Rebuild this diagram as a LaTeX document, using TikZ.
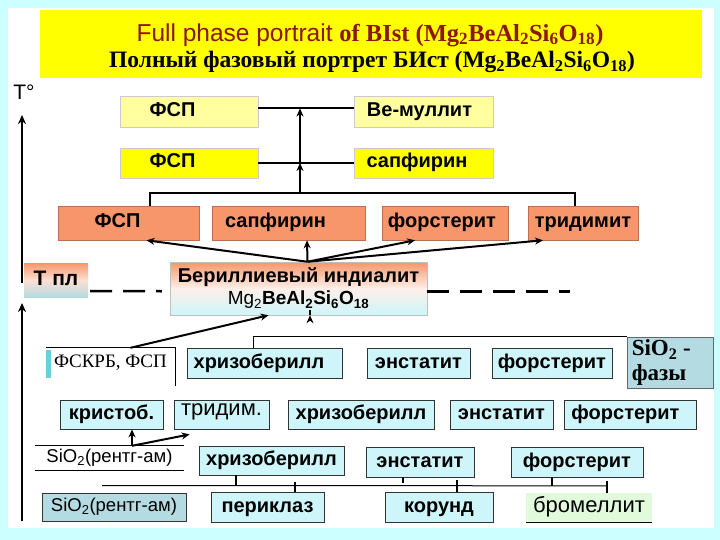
\documentclass[tikz,border=0pt]{standalone}
\usepackage{fontspec}
\setmainfont{Liberation Sans}
\newfontfamily\seriffont{Liberation Serif}
\usetikzlibrary{arrows.meta,calc}

\definecolor{bgcyan}{RGB}{204,255,255}
\definecolor{titleyellow}{RGB}{255,255,0}
\definecolor{paleyellow}{RGB}{255,255,160}
\definecolor{brightyellow}{RGB}{255,255,0}
\definecolor{salmon}{RGB}{246,150,106}
\definecolor{salmonedge}{RGB}{190,110,80}
\definecolor{lightcyan}{RGB}{206,246,250}
\definecolor{greycyan}{RGB}{180,218,226}
\definecolor{palegreen}{RGB}{226,250,220}
\definecolor{titlered}{RGB}{140,22,10}
\definecolor{stripcyan}{RGB}{110,205,220}

\newcommand{\lsh}[1]{\hspace*{-#1}}

\tikzset{
  lab/.style={font=\bfseries\fontsize{20}{23}\selectfont, inner sep=0pt, text height=14pt, text depth=4pt},
  yboxa/.style={lab, fill=paleyellow, draw=black!20, line width=0.6pt},
  yboxb/.style={lab, fill=brightyellow, draw=black!20, line width=0.6pt},
  obox/.style={lab, fill=salmon, draw=salmonedge, line width=0.6pt},
  cbox/.style={lab, fill=lightcyan, draw=black!80, line width=0.8pt},
  gradbox/.style={lab, shading=axis, top color=salmon, bottom color=lightcyan, middle color=white!85!salmon, draw=black!25, line width=0.5pt},
  conn/.style={line width=2pt, black},
  arr/.style={line width=2pt, black, -{Stealth[length=8pt,width=7pt]}},
  bus/.style={line width=1pt, black},
  tick/.style={line width=2.5pt, black},
  axisarr/.style={line width=2.5pt, black, -{Stealth[length=9pt,width=8pt]}},
  dashline/.style={line width=2.5pt, black, dash pattern=on 22pt off 11pt}
}

\begin{document}
\begin{tikzpicture}[x=1pt,y=-1pt]
\useasboundingbox (0,0) rectangle (720,540);
\fill[bgcyan] (0,0) rectangle (720,540);
\fill[white] (8,8) rectangle (714,528);

% title
\node[fill=titleyellow, minimum width=662pt, minimum height=68pt, inner sep=0pt] (title) at (371,44) {};
\node[inner sep=0pt, text=titlered] (t1) at (370,35) {\fontsize{24.5}{27}\selectfont Full phase portrait {\seriffont\bfseries of BIst (Mg\textsubscript{2}BeAl\textsubscript{2}Si\textsubscript{6}O\textsubscript{18})}};
\node[inner sep=0pt] (t2) at (372,62) {\seriffont\bfseries\fontsize{23.5}{26}\selectfont Полный фазовый портрет БИст (Mg\textsubscript{2}BeAl\textsubscript{2}Si\textsubscript{6}O\textsubscript{18})};

% axis
\node[inner sep=0pt, font=\fontsize{21}{24}\selectfont] (tlab) at (24,92) {T\textdegree};
\coordinate (axAbot) at (22,283);
\coordinate (axAtop) at (22,115);
\coordinate (axBbot) at (22,521);
\coordinate (axBtop) at (22,303);
\draw[axisarr] (axAbot) -- (axAtop);
\draw[axisarr] (axBbot) -- (axBtop);

% top rows
\node[yboxa, minimum width=138pt, minimum height=31pt] (f1) at (189,111.5) {\lsh{33pt}ФСП};
\node[yboxa, minimum width=139pt, minimum height=31pt] (bm) at (423.5,111.5) {\lsh{8pt}Ве-муллит};
\node[yboxb, minimum width=138pt, minimum height=30pt] (f2) at (189,163) {\lsh{33pt}ФСП};
\node[yboxb, minimum width=139pt, minimum height=30pt] (s2) at (423.5,163) {\lsh{13pt}сапфирин};
\draw[conn] ($(f1.east)+(0,-3)$) -- ($(bm.west)+(0,-3)$);
\draw[conn] (f2.east) -- (s2.west);
\coordinate (jn) at (300,193);
\draw[arr] (jn) -- (jn |- f2.east);
\draw[arr] (jn |- f2.east) -- ($(jn |- f1.east)+(0,-3)$);

% orange row
\node[obox, minimum width=141pt, minimum height=34pt] (o1) at (128.5,223) {\lsh{22pt}ФСП};
\node[obox, minimum width=153pt, minimum height=34pt] (o2) at (288.5,223) {\lsh{26pt}сапфирин};
\node[obox, minimum width=126pt, minimum height=34pt] (o3) at (445,223) {\lsh{6pt}форстерит};
\node[obox, minimum width=110pt, minimum height=34pt] (o4) at (583,223) {тридимит};
\draw[conn] ($(o1.north)+(21.5,0)$) |- (jn) -| ($(o4.north)+(-8,0)$);
\draw[conn] ($(o2.north)+(-1.5,0)$) -- ($(o2.north)+(-1.5,0)$ |- jn);
\draw[conn] ($(o3.north)+(-13,0)$) -- ($(o3.north)+(-13,0)$ |- jn);

% T pl and indialite
\node[lab, shading=axis, top color=salmon, bottom color=greycyan, middle color=white!70!salmon, minimum width=64pt, minimum height=34pt, font=\bfseries\fontsize{21}{24}\selectfont] (tpl) at (56,280) {Т пл};
\node[gradbox, text height=, text depth=, minimum width=257pt, minimum height=53pt, align=center] (ind) at (298.5,288.5)
  {\fontsize{20}{23}\selectfont Бериллиевый индиалит\\[-1pt]
   \fontsize{19}{22}\selectfont{\mdseries Mg\textsubscript{2}}BeAl\textsubscript{2}Si\textsubscript{6}O\textsubscript{18}};
\draw[dashline] ($(tpl.south east)+(2,-6)$) -- ($(ind.south west)+(-8,-24)$);
\draw[dashline] ($(ind.south east)+(0,-24)$) -- ++(143,0);

\coordinate (src) at ($(ind.north)+(9,0)$);
\draw[arr] (src) -- ($(o1.south)+(18,0)$);
\draw[arr] (src) -- ($(o2.south)+(18.5,0)$);
\draw[arr] (src) -- ($(o3.south)+(-30,0)$);
\draw[arr] (src) -- ($(o4.south)+(-40,0)$);

% cyan row 1
\node[fill=white, inner sep=0pt, minimum width=129pt, minimum height=30pt, font=\seriffont\fontsize{19}{22}\selectfont] (fs) at (110.5,363) {ФСКРБ, ФСП};
\fill[stripcyan] ($(fs.north west)+(0,2)$) rectangle ($(fs.south west)+(5,0)$);
\draw[line width=0.8pt] (fs.north west) -- (fs.north east) -- ($(fs.south east)+(0,8)$);
\node[cbox, minimum width=155pt, minimum height=30pt] (c1) at (264.5,363) {\lsh{11pt}хризоберилл};
\node[cbox, minimum width=103pt, minimum height=30pt] (e1) at (418.5,363) {энстатит};
\node[cbox, minimum width=120pt, minimum height=30pt] (fo1) at (552,363) {форстерит};
\node[fill=greycyan, draw=black!60, line width=0.8pt, minimum width=86pt, minimum height=51pt, inner sep=0pt] (sf) at (670,362.5) {};
\node[anchor=north west, inner sep=0pt, align=left, font=\seriffont\bfseries\fontsize{23}{25}\selectfont] (sft) at ($(sf.north west)+(5,3)$) {SiO\textsubscript{2} -\\фазы};

\draw[bus] ($(c1.north)+(-11.5,0)$) |- (sf.north west);
\draw[bus] ($(e1.north)+(-10.5,0)$) -- ($(e1.north)+(-10.5,0)$ |- sf.north west);
\draw[bus] ($(fo1.north)+(-5,0)$) -- ($(fo1.north)+(-5,0)$ |- sf.north west);
\draw[arr] ($(ind.south)+(11.5,0)$ |- sf.north west) -- ($(ind.south)+(11.5,0)$);
\draw[arr] ($(fs.north)+(20,0)$) -- ($(ind.south)+(-30,0)$);

% cyan row 2
\node[cbox, minimum width=103pt, minimum height=29pt] (kr) at (111.5,414.5) {кристоб.};
\node[cbox, minimum width=95pt, minimum height=29pt, font=\fontsize{22}{24}\selectfont, text height=11pt, text depth=9pt] (tr) at (221.5,414.5) {тридим.};
\node[cbox, minimum width=146pt, minimum height=29pt] (c2) at (361,414.5) {хризоберилл};
\node[cbox, minimum width=103pt, minimum height=29pt] (e2) at (501.5,414.5) {энстатит};
\node[cbox, minimum width=132pt, minimum height=29pt] (fo2) at (630,414.5) {\lsh{9pt}форстерит};

% SiO2 (rentg-am) text between lines
\node[inner sep=0pt, minimum width=149pt, minimum height=24pt, font=\fontsize{18.5}{21}\selectfont] (sx) at (109.5,458) {SiO\textsubscript{2}(рентг-ам)};
\draw[line width=0.8pt] (sx.north west) -- (sx.north east);
\draw[line width=0.8pt] (sx.south west) -- (sx.south east);
\coordinate (sa) at ($(sx.north)+(22.5,0)$);
\draw[arr] (sa) -- (sa |- kr.south);
\draw[arr] (sa) -- ($(tr.south west)+(16,5)$);

% row 3
\node[cbox, minimum width=145pt, minimum height=29pt] (c3) at (271.5,460.5) {хризоберилл};
\node[cbox, minimum width=108pt, minimum height=30pt] (e3) at (420,462) {энстатит};
\node[cbox, minimum width=132pt, minimum height=30pt] (fo3) at (577,462) {форстерит};

% bottom row
\node[fill=greycyan, draw=black!80, line width=0.8pt, inner sep=0pt, minimum width=144pt, minimum height=28pt, font=\fontsize{18.5}{21}\selectfont] (sb) at (114,507) {SiO\textsubscript{2}(рентг-ам)};
\node[cbox, minimum width=113pt, minimum height=30pt] (pe) at (267.5,507) {периклаз};
\node[cbox, minimum width=108pt, minimum height=30pt] (ko) at (439,507) {корунд};
\node[fill=palegreen, inner sep=0pt, minimum width=126pt, minimum height=29pt, font=\fontsize{22}{24}\selectfont, text height=15pt, text depth=5pt] (br) at (589,507.5) {бромеллит};
\draw[line width=1pt] (br.south west) -- (br.south east);

% bottom bus
\draw[bus] ($(sb.north)+(-12,-7)$) -- ($(br.north)+(18,-7)$);
\draw[tick] ($(sb.north)+(-12,0)$) -- ($(sb.north)+(-12,0)$ |- sx.south);
\draw[tick] ($(c3.south)+(-35.5,0)$) -- ++(0,11);
\draw[tick] ($(e3.south)+(-17,0)$) -- ++(0,6);
\draw[tick] ($(fo3.south)+(-25,0)$) -- ++(0,9);
\draw[tick] ($(pe.north)+(27.5,0)$) -- ++(0,-10);
\draw[tick] ($(ko.north)+(18,0)$) -- ++(0,-12);
\draw[tick] ($(br.north)+(18,0)$) -- ++(0,-12);
\end{tikzpicture}
\end{document}
